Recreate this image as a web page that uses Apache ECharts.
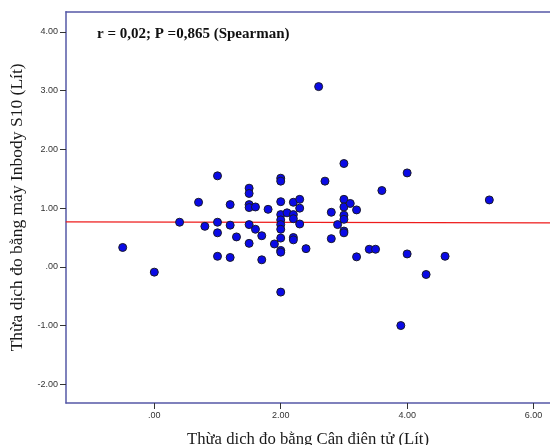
<!DOCTYPE html>
<html>
<head>
<meta charset="utf-8">
<script src="https://cdn.jsdelivr.net/npm/echarts@6/dist/echarts.min.js"></script>
<style>
html,body{margin:0;padding:0;background:#fff;}
#chart{width:550px;height:445px;}
</style>
</head>
<body>
<div id="chart"></div>
<script>
// Data
const xValues = [-0.5, 0.0, 0.4, 0.7, 0.8, 1.0, 1.0, 1.0, 1.0, 1.2, 1.2, 1.2, 1.3,
  1.5, 1.5, 1.5, 1.5, 1.5, 1.5, 1.6, 1.6, 1.7, 1.7, 1.8, 1.9,
  2.0, 2.0, 2.0, 2.0, 2.0, 2.0, 2.0, 2.0, 2.0, 2.0, 2.0,
  2.1, 2.2, 2.2, 2.2, 2.2, 2.2, 2.3, 2.3, 2.3, 2.4, 2.6, 2.7, 2.8, 2.8, 2.9,
  3.0, 3.0, 3.0, 3.0, 3.0, 3.0, 3.0, 3.1, 3.2, 3.2, 3.4, 3.5, 3.6,
  3.9, 4.0, 4.0, 4.3, 4.6, 5.3];
const yValues = [0.33, -0.09, 0.76, 1.10, 0.69, 1.55, 0.76, 0.58, 0.18, 1.06, 0.71, 0.16, 0.51,
  1.34, 1.25, 1.06, 1.01, 0.72, 0.40, 1.02, 0.64, 0.53, 0.12, 0.98, 0.39,
  1.51, 1.46, 1.11, 0.89, 0.80, 0.72, 0.64, 0.49, 0.28, 0.25, -0.43,
  0.92, 1.10, 0.89, 0.82, 0.50, 0.46, 1.15, 1.00, 0.73, 0.31, 3.07, 1.46, 0.93, 0.48, 0.72,
  1.76, 1.15, 1.02, 0.88, 0.81, 0.61, 0.58, 1.08, 0.97, 0.17, 0.30, 0.30, 1.30,
  -1.00, 1.60, 0.22, -0.13, 0.18, 1.14];
const fitX = [-1.4, 6.26];
const fitY = [0.766, 0.749];
const xTicks = [0, 2, 4, 6];
const yTicks = [-2, -1, 0, 1, 2, 3, 4];
const xTitle = 'Thừa dịch đo bằng Cân điện tử (Lít)';
const yTitle = 'Thừa dịch đo bằng máy Inbody S10 (Lít)';
const note = 'r = 0,02; P =0,865 (Spearman)';

const points = xValues.map((x, i) => [x, yValues[i]]);
const fitLine = fitX.map((x, i) => [x, fitY[i]]);
const fmt = v => (Math.abs(v) < 1e-9 ? '.00' : v.toFixed(2));

const frameColor = '#5558a6';
const chart = echarts.init(document.getElementById('chart'), null, {renderer: 'canvas'});
chart.setOption({
  animation: false,
  backgroundColor: '#ffffff',
  grid: {left: 66, top: 11.7, right: 0, bottom: 42, show: false,
         containLabel: false, outerBoundsMode: 'none'},
  xAxis: [{
    type: 'value', min: -1.397, max: 6.26, position: 'bottom',
    name: xTitle, nameLocation: 'middle', nameGap: 28,
    nameTextStyle: {fontFamily: 'Liberation Serif', fontSize: 16.7, color: '#1a1a1a'},
    axisLine: {show: true, onZero: false, lineStyle: {color: frameColor, width: 1.5}},
    axisTick: {show: true, inside: false, length: 6, customValues: xTicks, lineStyle: {color: '#333'}},
    axisLabel: {customValues: xTicks, formatter: fmt, fontFamily: 'Liberation Sans', fontSize: 9, color: '#333', margin: 8},
    splitLine: {show: false}
  }, {
    type: 'value', min: -1.397, max: 6.26, position: 'top',
    axisLine: {show: true, onZero: false, lineStyle: {color: frameColor, width: 1.5}},
    axisTick: {show: false}, axisLabel: {show: false}, splitLine: {show: false}
  }],
  yAxis: {
    type: 'value', min: -2.319, max: 4.346,
    name: yTitle, nameLocation: 'middle', nameGap: 39,
    nameTextStyle: {fontFamily: 'Liberation Serif', fontSize: 17.5, color: '#1a1a1a'},
    axisLine: {show: true, onZero: false, lineStyle: {color: frameColor, width: 1.5}},
    axisTick: {show: true, inside: false, length: 6, customValues: yTicks, lineStyle: {color: '#333'}},
    axisLabel: {customValues: yTicks, formatter: fmt, fontFamily: 'Liberation Sans', fontSize: 9, color: '#333', margin: 8},
    splitLine: {show: false}
  },
  graphic: [{
    type: 'text', left: 97, top: 26.5,
    style: {text: note, font: 'bold 15px "Liberation Serif"', fill: '#111'}
  }],
  series: [{
    type: 'line', data: fitLine, symbol: 'none', silent: true,
    lineStyle: {color: '#ee1c1c', width: 1.2}, z: 1
  }, {
    type: 'scatter', data: points, symbolSize: 8,
    itemStyle: {color: '#0a0ae6', borderColor: '#1a1a2a', borderWidth: 1, opacity: 1}, z: 2
  }]
});
</script>
</body>
</html>
